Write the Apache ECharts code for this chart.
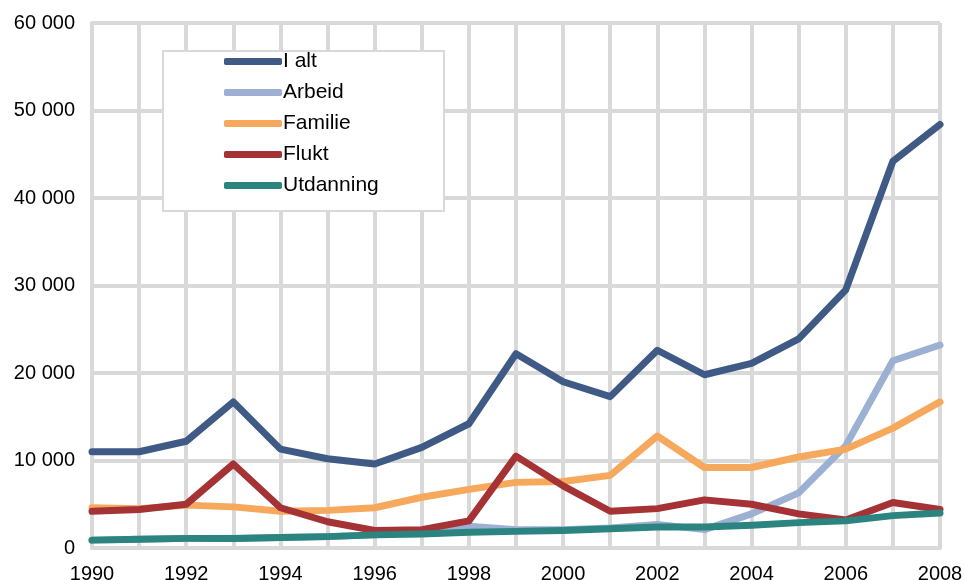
<!DOCTYPE html>
<html>
<head>
<meta charset="utf-8">
<script src="https://cdn.jsdelivr.net/npm/echarts@6/dist/echarts.min.js"></script>
<style>
  html, body { margin: 0; padding: 0; background: #fff; }
  #chart { width: 964px; height: 580px; }
</style>
</head>
<body>
<div id="chart"></div>
<script>
'use strict';

var years = ['1990', '1991', '1992', '1993', '1994', '1995', '1996', '1997', '1998', '1999',
             '2000', '2001', '2002', '2003', '2004', '2005', '2006', '2007', '2008'];

var iAlt      = [11000, 11000, 12200, 16700, 11300, 10200, 9600, 11500, 14200, 22200,
                 19000, 17300, 22600, 19800, 21100, 23900, 29500, 44200, 48400];
var arbeid    = [900, 1000, 1100, 1100, 1200, 1300, 1500, 1800, 2500, 2100,
                 2100, 2300, 2700, 2100, 3900, 6300, 11700, 21400, 23200];
var familie   = [4600, 4500, 4900, 4700, 4200, 4300, 4600, 5800, 6700, 7500,
                 7600, 8300, 12800, 9200, 9200, 10400, 11300, 13700, 16700];
var flukt     = [4200, 4400, 5000, 9600, 4600, 3000, 2000, 2100, 3100, 10500,
                 7100, 4200, 4500, 5500, 5000, 3900, 3200, 5200, 4400];
var utdanning = [900, 1000, 1100, 1100, 1200, 1300, 1500, 1600, 1800, 1900,
                 2000, 2200, 2400, 2400, 2600, 2900, 3100, 3700, 4000];

var names  = ['I alt', 'Arbeid', 'Familie', 'Flukt', 'Utdanning'];
var colors = ['#3e5a85', '#9cb0d3', '#f6a95c', '#a53335', '#2b8480'];
var values = [iAlt, arbeid, familie, flukt, utdanning];

var myChart = echarts.init(document.getElementById('chart'));

var gridColor = '#d9d9d9';

var series = names.map(function (n, i) {
   return {
      name: n,
      type: 'line',
      data: values[i],
      symbol: 'none',
      smooth: false,
      lineStyle: { color: colors[i], width: 7, cap: 'round', join: 'round' },
      itemStyle: { color: colors[i] },
      z: 2 + i
   };
});

var option = {
   animation: false,
   textStyle: { fontFamily: 'Liberation Sans, Arial, sans-serif' },
   grid: { left: 92, right: 24, top: 23, bottom: 32, containLabel: false, outerBoundsMode: 'none' },
   graphic: [{
      type: 'rect',
      left: 162, top: 50,
      shape: { width: 281, height: 160 },
      style: { fill: '#fff', stroke: gridColor, lineWidth: 2 },
      z: 50
   }],
   legend: {
      orient: 'vertical',
      left: 224, top: 51,
      padding: 0,
      data: names,
      icon: 'roundRect',
      itemWidth: 58, itemHeight: 7,
      itemGap: 10,
      z: 60,
      textStyle: { fontSize: 21, color: '#000', padding: [0, 0, 0, -4], fontFamily: 'Liberation Sans, Arial, sans-serif' }
   },
   xAxis: {
      type: 'category',
      data: years,
      boundaryGap: false,
      axisLine: { show: true, lineStyle: { color: gridColor, width: 4 } },
      axisTick: { show: false },
      axisLabel: { interval: 1, fontSize: 20, color: '#000', margin: 16 },
      splitLine: { show: true, interval: 0, lineStyle: { color: gridColor, width: 4 } }
   },
   yAxis: {
      type: 'value',
      min: 0, max: 60000, interval: 10000,
      axisLine: { show: true, lineStyle: { color: gridColor, width: 4 } },
      axisTick: { show: false },
      axisLabel: {
         fontSize: 20, color: '#000', margin: 17,
         formatter: function (v) {
            return String(v).replace(/\B(?=(\d{3})+(?!\d))/g, ' ');
         }
      },
      splitLine: { show: true, lineStyle: { color: gridColor, width: 4 } }
   },
   series: series
};

myChart.setOption(option);
</script>
</body>
</html>
